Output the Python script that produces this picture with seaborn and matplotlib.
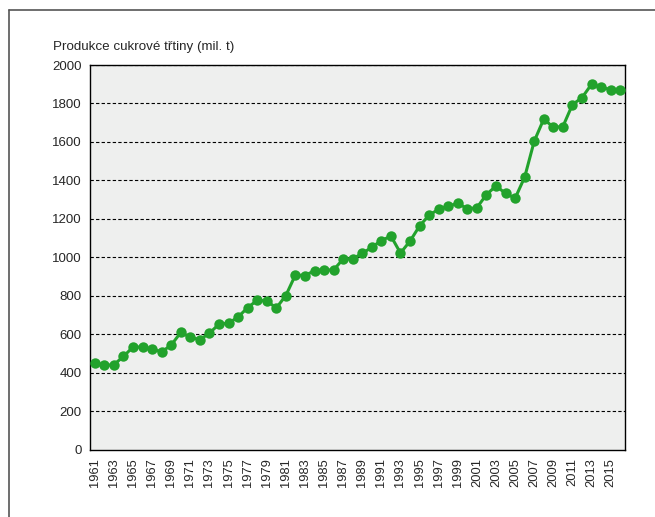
import matplotlib
matplotlib.use('Agg')
import matplotlib.pyplot as plt
from matplotlib.lines import Line2D
import seaborn as sns
import pandas as pd
import numpy as np

# Sugar cane production 1961-2016 (mil. t)
years = list(range(1961, 2017))
production = [
    452, 438, 441, 484, 533, 533, 522, 508, 543, 609,
    584, 571, 605, 652, 657, 689, 738, 776, 773, 736,
    801, 908, 905, 930, 934, 934, 991, 992, 1020, 1052,
    1087, 1110, 1022, 1084, 1163, 1219, 1250, 1265, 1281, 1252,
    1258, 1326, 1371, 1332, 1307, 1417, 1604, 1719, 1676, 1680,
    1794, 1830, 1900, 1884, 1872, 1872,
]
title = 'Produkce cukrové třtiny (mil. t)'
y_ticks = list(range(0, 2001, 200))
green = '#22a22c'

df = pd.DataFrame({'year': years, 'value': production})

sns.set_style('white')
plt.rcParams['font.family'] = ['Liberation Sans Narrow', 'Liberation Sans', 'DejaVu Sans']

fig = plt.figure(figsize=(6.55, 5.17), dpi=100)
ax = fig.add_axes([90 / 655, 1 - 449.5 / 517, 535 / 655, 384.5 / 517])
ax.set_facecolor('#eeefee')

sns.lineplot(data=df, x='year', y='value', ax=ax, color=green, linewidth=2.2,
             marker='o', markersize=7.5, markeredgewidth=0, zorder=3)

ax.set_xlim(1960.5, 2016.5)
ax.set_ylim(0, 2000)
ax.set_yticks(y_ticks)
ax.set_yticklabels([str(v) for v in y_ticks], fontsize=9.5)
ax.set_xticks(years[::2])
ax.set_xticklabels([str(y) for y in years[::2]], rotation=90, fontsize=9.3)
ax.set_xticks(np.arange(1960.5, 2017, 1), minor=True)
ax.tick_params(axis='x', which='major', length=0, pad=6)
ax.tick_params(axis='x', which='minor', length=4, width=0.8, direction='out', color='black')
ax.tick_params(axis='y', length=4, width=0.8, direction='out', color='black', pad=2)
ax.set_xlabel('')
ax.set_ylabel('')

for v in y_ticks[1:]:
    ax.axhline(v, color='black', linewidth=0.8, linestyle=(0, (3, 2)), zorder=1)

for s in ax.spines.values():
    s.set_color('black')
    s.set_linewidth(1.0)

fig.text(53 / 655, 1 - 47 / 517, title, fontsize=9.6, ha='left', va='center')

# outer frame (top and left edges)
fig.add_artist(Line2D([9 / 655, 1.0], [1 - 10 / 517, 1 - 10 / 517],
                      transform=fig.transFigure, color='#555555', linewidth=1.2))
fig.add_artist(Line2D([9 / 655, 9 / 655], [0.0, 1 - 10 / 517],
                      transform=fig.transFigure, color='#555555', linewidth=1.2))

fig.savefig('out.png', dpi=100)
